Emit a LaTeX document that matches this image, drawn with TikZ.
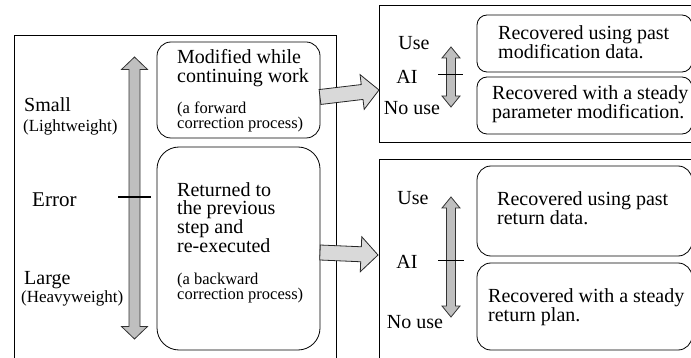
\documentclass[tikz,border=0pt]{standalone}
\usepackage{fontspec}
\setmainfont{Liberation Serif}
\usetikzlibrary{calc}

\tikzset{
  frame/.style={draw, line width=0.8pt, inner sep=0pt, anchor=north west},
  rbox/.style={draw, line width=0.8pt, inner sep=0pt, fill=white},
  txt/.style={font=\fontsize{20}{18}\selectfont, align=left, inner sep=0pt},
  note/.style={font=\fontsize{16.5}{15}\selectfont, align=left, inner sep=0pt},
  gauge/.style={draw=black!80, fill=black!25, line width=0.8pt},
  fatarrow/.style={draw=black!85, fill=black!15, line width=0.8pt},
  tick/.style={draw, line width=0.8pt}
}

% double headed gauge arrow from #1 to #2: shaft half #3, head half #4, head length #5
\newcommand{\dblarrow}[5]{%
  \coordinate (h1) at ($(#1)!#5!(#2)$);
  \coordinate (h2) at ($(#2)!#5!(#1)$);
  \draw[gauge] (#1) -- ($(h1)!#4!90:(#2)$) -- ($(h1)!#3!90:(#2)$)
    -- ($(h2)!#3!-90:(#1)$) -- ($(h2)!#4!-90:(#1)$) -- (#2)
    -- ($(h2)!#4!90:(#1)$) -- ($(h2)!#3!90:(#1)$)
    -- ($(h1)!#3!-90:(#2)$) -- ($(h1)!#4!-90:(#2)$) -- cycle;}

% block arrow from #1 to #2
\newcommand{\blockarrow}[2]{%
  \coordinate (h) at ($(#2)!17pt!(#1)$);
  \draw[fatarrow] ($(#1)!7.5pt!90:(#2)$) -- ($(h)!7.5pt!90:(#2)$)
    -- ($(h)!17.5pt!90:(#2)$) -- (#2) -- ($(h)!17.5pt!-90:(#2)$)
    -- ($(h)!7.5pt!-90:(#2)$) -- ($(#1)!7.5pt!-90:(#2)$) -- cycle;}

\begin{document}
\begin{tikzpicture}[x=1pt,y=-1pt]
  \useasboundingbox (0,0) rectangle (691,358);
  \clip (0,0) rectangle (691,358);

  % outer frames
  \node[frame, minimum width=322pt, minimum height=345pt] (errframe) at (14,35) {};
  \node[frame, minimum width=330pt, minimum height=137pt] (fwdframe) at (379,5) {};
  \node[frame, minimum width=330pt, minimum height=220pt] (bwdframe) at (379,159) {};

  % error size gauge
  \coordinate (errtop) at (134.5,57);
  \coordinate (errbot) at (134.5,339);
  \dblarrow{errtop}{errbot}{5.5pt}{13pt}{12.5pt}
  \coordinate (errl) at (118,197);
  \coordinate (errr) at (151,197);
  \draw[tick, line width=1.2pt] (errl) -- (errr);

  \node[txt, anchor=west] (small) at (24,105) {Small};
  \node[note, font=\fontsize{17}{17}\selectfont, anchor=west] (light) at (23,127) {(Lightweight)};
  \node[txt, font=\fontsize{21}{21}\selectfont, anchor=west] (error) at (32,200) {Error};
  \node[txt, anchor=west] (large) at (24,280) {Large};
  \node[note, font=\fontsize{17}{17}\selectfont, anchor=west] (heavy) at (21,298) {(Heavyweight)};

  % correction processes
  \node[rbox, rounded corners=14pt, minimum width=163pt, minimum height=96pt] (fwd) at (238.5,90) {};
  \node[txt, font=\fontsize{20}{19}\selectfont, anchor=north west] (fwdtxt) at (177,49) {Modified while\\continuing work};
  \node[note, anchor=north west] (fwdnote) at (177,102) {(a forward\\correction process)};

  \node[rbox, rounded corners=22pt, minimum width=163pt, minimum height=203pt] (bwd) at (238.5,248.5) {};
  \node[txt, anchor=north west] (bwdtxt) at (177,182) {Returned to\\the previous\\step and\\re-executed};
  \node[note, anchor=north west] (bwdnote) at (177,273) {(a backward\\correction process)};

  % block arrows
  \coordinate (fwdout) at (320,97);
  \coordinate (fwdtip) at (379,90);
  \blockarrow{fwdout}{fwdtip}
  \coordinate (bwdout) at (320,252.5);
  \coordinate (bwdtip) at (378,255);
  \blockarrow{bwdout}{bwdtip}

  % AI gauge, forward side
  \coordinate (fuse) at (451,47);
  \coordinate (fnouse) at (451,107);
  \dblarrow{fuse}{fnouse}{4.5pt}{9pt}{11pt}
  \coordinate (fail) at (438,74);
  \coordinate (fair) at (463,74);
  \draw[tick] (fail) -- (fair);
  \node[txt] (fusetxt) at (414,43) {Use};
  \node[txt] (faitxt) at (407,77) {AI};
  \node[txt] (fnousetxt) at (412,108) {No use};

  \node[rbox, rounded corners=10pt, minimum width=215pt, minimum height=57pt] (pastmod) at (584.5,43.5) {};
  \node[txt, anchor=north west] (pastmodtxt) at (498,25) {Recovered using past\\modification data.};
  \node[rbox, rounded corners=10pt, minimum width=215pt, minimum height=57pt] (steadymod) at (584.5,105.5) {};
  \node[txt, anchor=north west] (steadymodtxt) at (492,85) {Recovered with a steady\\parameter modification.};

  % AI gauge, backward side
  \coordinate (buse) at (451,197);
  \coordinate (bnouse) at (451,317);
  \dblarrow{buse}{bnouse}{4.5pt}{9pt}{11pt}
  \coordinate (bail) at (438,260);
  \coordinate (bair) at (464,260);
  \draw[tick] (bail) -- (bair);
  \node[txt] (busetxt) at (413,198) {Use};
  \node[txt] (baitxt) at (407,262) {AI};
  \node[txt] (bnousetxt) at (415,322) {No use};

  \node[rbox, rounded corners=14pt, minimum width=215pt, minimum height=90pt] (pastret) at (584.5,211) {};
  \node[txt, anchor=north west] (pastrettxt) at (497,191) {Recovered using past\\return data.};
  \node[rbox, rounded corners=14pt, minimum width=215pt, minimum height=87pt] (steadyret) at (584.5,306.5) {};
  \node[txt, anchor=north west] (steadyrettxt) at (488,288) {Recovered with a steady\\return plan.};
\end{tikzpicture}
\end{document}
